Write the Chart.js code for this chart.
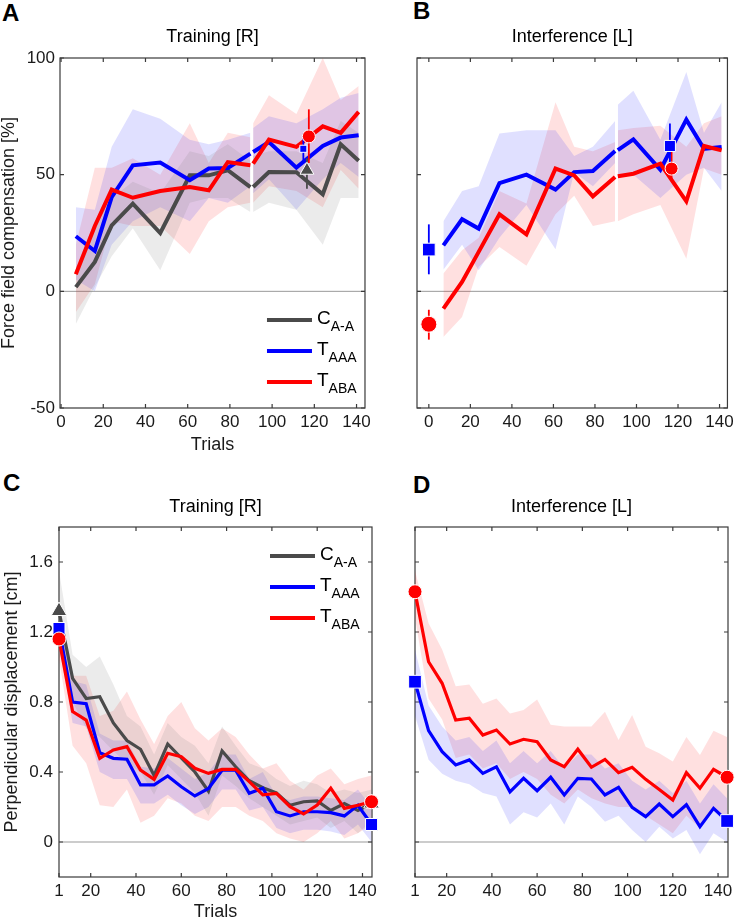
<!DOCTYPE html>
<html>
<head>
<meta charset="utf-8">
<script src="https://cdn.jsdelivr.net/npm/chart.js@4.4.0/dist/chart.umd.min.js"></script>
<style>
  body { margin: 0; background: #fff; width: 738px; height: 921px; position: relative; overflow: hidden; font-family: 'Liberation Sans', Arial, sans-serif; }
  canvas { position: absolute; }
  .letter { position: absolute; font-weight: bold; font-size: 24px; line-height: 1; color: #000; }
</style>
</head>
<body>
<div class="letter" style="left:2px;top:1px">A</div>
<div class="letter" style="left:413px;top:-1px">B</div>
<div class="letter" style="left:3px;top:471px">C</div>
<div class="letter" style="left:413px;top:473px">D</div>
<canvas id="chartA" width="375" height="460" style="left:0;top:0"></canvas>
<canvas id="chartB" width="363" height="460" style="left:375px;top:0"></canvas>
<canvas id="chartC" width="385" height="461" style="left:0;top:460px"></canvas>
<canvas id="chartD" width="353" height="461" style="left:385px;top:460px"></canvas>
<script>
// trial positions of the block averages
const trialsAB = [7, 16, 24, 34, 47, 61, 70, 79, 89.7, 91, 98.5, 111.5, 124, 132.5, 141];
const blockBreak = 90.35;   // gap between the two training blocks
const trialsCD = [6, 12, 18, 24, 30, 36, 42, 48, 54, 60, 66, 72, 78, 84, 90, 96, 102, 108, 114, 120, 126, 132, 138, 144];

const xTicksAB = [0, 20, 40, 60, 80, 100, 120, 140];
const xTicksCD = [6, 20, 40, 60, 80, 100, 120, 140];
const xLabelsCD = ['1', '20', '40', '60', '80', '100', '120', '140'];
const yTicksAB = [-50, 0, 50, 100];
const yTicksCD = [0, 0.4, 0.8, 1.2, 1.6];

const seriesNames = ['C', 'T', 'T'];
const seriesSubs = ['A-A', 'AAA', 'ABA'];

// A: force field compensation [%], training
const ffcGrayA = [1.8, 12.6, 28.3, 37.6, 25, 49.7, 49.7, 51.9, 44.7, 44.7, 51.1, 51, 41.6, 63, 56];
const ffcGrayUpA = [10, 30, 40, 47, 42, 60, 58, 63, 56, 58, 60, 60, 55, 73, 68];
const ffcGrayLoA = [-14, 2, 15, 27, 9, 38, 40, 40, 34, 34, 38, 35, 20, 40, 40];
const ffcBlueA = [23.6, 17.3, 40.4, 54, 55.2, 47.6, 52.6, 52.9, 59, 59.7, 64, 53, 62.3, 65.9, 66.9];
const ffcBlueUpA = [36, 35, 62, 78, 74, 65, 63, 65, 68, 70, 75, 72, 78, 83, 85];
const ffcBlueLoA = [5, 0, 20, 30, 36, 30, 40, 38, 45, 42, 48, 35, 48, 55, 49];
const ffcRedA = [7.3, 28, 43.6, 40.1, 43, 44.7, 43.3, 55.4, 54, 54.7, 65, 61.9, 70.7, 67.9, 76.9];
const ffcRedUpA = [20, 53, 53, 57, 50, 72, 55, 68, 66, 72, 84, 76, 100, 82, 88];
const ffcRedLoA = [-9, 3, 30, 28, 28, 16, 30, 36, 38, 38, 45, 43, 36, 52, 44];
// probes in A: gray, blue, red
const probeXA = [116.5, 114.8, 117.4];
const probeYA = [51.9, 61.1, 66.4];
const probeLoA = [44, 56, 55];
const probeHiA = [57, 67.6, 78];

// B: force field compensation [%], interference
const ffcBlueB = [19.7, 30.9, 26.9, 46.4, 50, 43.6, 51.1, 51.6, 60.1, 60.5, 65.1, 52.1, 73.6, 61.1, 61.9];
const ffcBlueUpB = [30, 43, 45, 67.6, 69, 69, 58, 62, 73, 80, 86, 65, 94, 68, 81];
const ffcBlueLoB = [9.3, 20, 9, 23, 37, 18, 51, 45, 55, 49, 50, 40, 50, 53, 43];
const ffcRedB = [-7.4, 4, 16.9, 33, 24.4, 52.6, 49.7, 40.7, 49, 49.3, 50.4, 54.7, 38.6, 62.3, 60.4];
const ffcRedUpB = [7.6, 17.6, 23, 43, 37.6, 81, 62, 60, 64, 69, 70, 71, 62, 72, 75];
const ffcRedLoB = [-19.6, -11, 10.4, 19, 11, 33, 41, 28, 30, 30, 33, 37, 14, 52.6, 50];
// probes in B: blue, red before; blue, red after
const probeXB = [0, 0, 116.1, 116.9];
const probeYB = [17.9, -14.1, 62.3, 52.6];
const probeLoB = [7.3, -20.7, 52, 47.6];
const probeHiB = [28.7, -7.9, 71.9, 61.9];

// C: perpendicular displacement [cm], training
const pdGrayC = [1.32, 0.935, 0.82, 0.83, 0.68, 0.58, 0.53, 0.38, 0.56, 0.48, 0.40, 0.29, 0.52, 0.43, 0.35, 0.31, 0.28, 0.21, 0.23, 0.235, 0.18, 0.22, 0.18, 0.22];
const pdGrayUpC = [1.55, 1.07, 1.0, 1.06, 0.9, 0.72, 0.66, 0.5, 0.68, 0.6, 0.55, 0.45, 0.66, 0.55, 0.45, 0.42, 0.36, 0.32, 0.35, 0.33, 0.28, 0.3, 0.28, 0.3];
const pdGrayLoC = [1.1, 0.8, 0.65, 0.6, 0.52, 0.45, 0.4, 0.27, 0.44, 0.36, 0.28, 0.15, 0.38, 0.32, 0.25, 0.2, 0.15, 0.1, 0.12, 0.14, 0.08, 0.12, 0.05, 0.12];
const pdBlueC = [1.22, 0.80, 0.79, 0.51, 0.478, 0.473, 0.326, 0.326, 0.377, 0.316, 0.263, 0.306, 0.41, 0.41, 0.278, 0.307, 0.173, 0.149, 0.173, 0.173, 0.168, 0.149, 0.21, 0.10];
const pdBlueUpC = [1.3, 0.92, 0.9, 0.62, 0.58, 0.58, 0.43, 0.42, 0.48, 0.42, 0.36, 0.4, 0.5, 0.5, 0.36, 0.4, 0.26, 0.24, 0.26, 0.26, 0.25, 0.24, 0.3, 0.2];
const pdBlueLoC = [1.12, 0.68, 0.66, 0.4, 0.36, 0.36, 0.22, 0.22, 0.27, 0.21, 0.16, 0.2, 0.3, 0.3, 0.18, 0.2, 0.08, 0.05, 0.07, 0.07, 0.06, 0.04, 0.1, 0.0];
const pdRedC = [1.16, 0.745, 0.697, 0.478, 0.526, 0.545, 0.411, 0.358, 0.507, 0.488, 0.421, 0.392, 0.415, 0.415, 0.345, 0.269, 0.278, 0.202, 0.16, 0.211, 0.307, 0.192, 0.21, 0.23];
const pdRedUpC = [1.25, 0.95, 0.95, 0.72, 0.75, 0.86, 0.7, 0.56, 0.72, 0.8, 0.65, 0.58, 0.65, 0.6, 0.5, 0.42, 0.45, 0.35, 0.3, 0.38, 0.42, 0.33, 0.36, 0.38];
const pdRedLoC = [1.05, 0.55, 0.45, 0.21, 0.2, 0.3, 0.11, 0.15, 0.25, 0.22, 0.15, 0.12, 0.2, 0.2, 0.15, 0.12, 0.05, 0.02, 0.0, 0.05, 0.12, 0.02, 0.05, 0.1];

// D: perpendicular displacement [cm], interference
const pdBlueD = [0.916, 0.636, 0.516, 0.44, 0.469, 0.392, 0.43, 0.287, 0.364, 0.293, 0.37, 0.269, 0.364, 0.36, 0.269, 0.312, 0.198, 0.145, 0.217, 0.145, 0.213, 0.088, 0.192, 0.12];
const pdBlueUpD = [1.1, 0.78, 0.66, 0.58, 0.6, 0.52, 0.58, 0.45, 0.52, 0.45, 0.52, 0.42, 0.5, 0.5, 0.42, 0.45, 0.35, 0.3, 0.35, 0.28, 0.35, 0.22, 0.33, 0.25];
const pdBlueLoD = [0.72, 0.47, 0.39, 0.35, 0.33, 0.28, 0.26, 0.1, 0.17, 0.14, 0.22, 0.1, 0.26, 0.2, 0.116, 0.15, 0.068, 0.0, 0.087, 0.02, 0.068, -0.07, 0.05, 0.0];
const pdRedD = [1.43, 1.03, 0.907, 0.697, 0.707, 0.611, 0.64, 0.56, 0.587, 0.573, 0.469, 0.43, 0.53, 0.427, 0.472, 0.396, 0.427, 0.358, 0.3, 0.24, 0.396, 0.307, 0.415, 0.37];
const pdRedUpD = [1.55, 1.25, 1.1, 0.89, 0.9, 0.79, 0.82, 0.735, 0.754, 0.815, 0.67, 0.66, 0.66, 0.66, 0.745, 0.583, 0.726, 0.545, 0.507, 0.46, 0.6, 0.497, 0.636, 0.6];
const pdRedLoD = [1.28, 0.82, 0.7, 0.48, 0.5, 0.42, 0.45, 0.36, 0.4, 0.36, 0.27, 0.22, 0.3, 0.25, 0.22, 0.2, 0.2, 0.15, 0.1, 0.05, 0.15, 0.08, 0.18, 0.12];

const FONT = "'Liberation Sans', Arial, sans-serif";
const GRAY = '#4a4a4a', BLUE = '#0000ff', RED = '#ff0000';
const GRAY_BAND = 'rgba(110,110,110,0.14)';
const BLUE_BAND = 'rgba(0,0,255,0.12)';
const RED_BAND = 'rgba(255,0,0,0.12)';

Chart.defaults.font.family = FONT;

// turn x / y arrays into points, with a null at the block break
const pts = (xs, ys, gap) => {
    const out = [];
    xs.forEach((x, i) => {
        if (gap !== undefined && i > 0 && xs[i - 1] < gap && x > gap) out.push({ x: gap, y: null });
        out.push({ x: x, y: ys[i] });
    });
    return out;
};

const bandSets = (xs, up, lo, color, gap) => [
    { data: pts(xs, up, gap), borderWidth: 0, pointRadius: 0, backgroundColor: color, fill: '+1', order: 10 },
    { data: pts(xs, lo, gap), borderWidth: 0, pointRadius: 0, fill: false, order: 10 },
];

const lineSet = (xs, ys, color, width, order, gap) => ({
    data: pts(xs, ys, gap), borderColor: color, borderWidth: width, pointRadius: 0, fill: false, order: order,
});

// line with a marker on its first and last point (panels C, D)
const endMarkedSet = (xs, ys, color, order, style, radius) => ({
    data: pts(xs, ys), borderColor: color, borderWidth: 3.2, fill: false, order: order, clip: false,
    pointStyle: style, pointBackgroundColor: color, pointBorderColor: '#fff', pointBorderWidth: 1,
    pointRadius: ctx => (ctx.dataIndex === 0 || ctx.dataIndex === xs.length - 1) ? radius : 0,
});

const probeSets = (xs, ys, lo, hi, colors, styles, radii) => {
    const sets = [];
    xs.forEach((x, i) => {
        sets.push({ data: [{ x: x, y: lo[i] }, { x: x, y: hi[i] }], borderColor: colors[i], borderWidth: 1.8, pointRadius: 0, order: 1, clip: false });
        sets.push({ data: [{ x: x, y: ys[i] }], showLine: false, pointStyle: styles[i], pointRadius: radii[i],
            pointBackgroundColor: colors[i], pointBorderColor: '#fff', pointBorderWidth: 1, order: 0, clip: false });
    });
    return sets;
};

// zero line, box and inward ticks like the original figure
const framePlugin = {
    id: 'frame',
    beforeDatasetsDraw(chart) {
        const { ctx, chartArea: a, scales: { x, y } } = chart;
        ctx.save();
        const y0 = y.getPixelForValue(0);
        ctx.strokeStyle = '#999';
        ctx.lineWidth = 1;
        ctx.beginPath();
        ctx.moveTo(a.left, y0);
        ctx.lineTo(a.right, y0);
        ctx.stroke();

        ctx.strokeStyle = '#3a3a3a';
        ctx.lineWidth = 1.2;
        ctx.strokeRect(a.left, a.top, a.right - a.left, a.bottom - a.top);
        const tl = 4;
        ctx.beginPath();
        x.ticks.forEach(t => {
            const px = x.getPixelForValue(t.value);
            ctx.moveTo(px, a.bottom); ctx.lineTo(px, a.bottom - tl);
            ctx.moveTo(px, a.top); ctx.lineTo(px, a.top + tl);
        });
        y.ticks.forEach(t => {
            const py = y.getPixelForValue(t.value);
            ctx.moveTo(a.left, py); ctx.lineTo(a.left + tl, py);
            ctx.moveTo(a.right, py); ctx.lineTo(a.right - tl, py);
        });
        ctx.stroke();
        ctx.restore();
    }
};

// legend with subscripts
const subLegendPlugin = {
    id: 'subLegend',
    afterDatasetsDraw(chart, args, opts) {
        if (!opts.show) return;
        const { ctx, chartArea: a } = chart;
        const colors = [GRAY, BLUE, RED];
        ctx.save();
        opts.rows.forEach((dy, i) => {
            const ry = (opts.from === 'bottom' ? a.bottom : a.top) + dy;
            ctx.strokeStyle = colors[i];
            ctx.lineWidth = 4;
            ctx.beginPath();
            ctx.moveTo(a.right - opts.x0, ry);
            ctx.lineTo(a.right - opts.x1, ry);
            ctx.stroke();
            ctx.fillStyle = '#000';
            ctx.textBaseline = 'alphabetic';
            ctx.font = '19px ' + FONT;
            const tx = a.right - opts.tx;
            ctx.fillText(seriesNames[i], tx, ry + 3.5);
            const w = ctx.measureText(seriesNames[i]).width;
            ctx.font = '14px ' + FONT;
            ctx.fillText(seriesSubs[i], tx + w, ry + 11);
        });
        ctx.restore();
    }
};

const makeChart = (id, cfg) => new Chart(document.getElementById(id), {
    type: 'line',
    data: { datasets: cfg.datasets },
    options: {
        responsive: false,
        animation: false,
        events: [],
        layout: { padding: cfg.padding },
        plugins: {
            legend: { display: false },
            tooltip: { enabled: false },
            title: {
                display: true, text: cfg.title, fullSize: false, color: '#000',
                font: { family: FONT, size: 18, weight: 'normal' }, padding: cfg.titlePad,
            },
            subLegend: cfg.legend || { show: false },
        },
        scales: {
            x: {
                type: 'linear', min: cfg.xMin, max: cfg.xMax,
                afterBuildTicks: s => { s.ticks = cfg.xTicks.map(v => ({ value: v })); },
                afterFit: s => { s.height = cfg.xHeight; },
                grid: { display: false, drawTicks: false },
                border: { display: false },
                ticks: {
                    autoSkip: false, maxRotation: 0, padding: 4, color: '#1a1a1a',
                    font: { family: FONT, size: 17 },
                    callback: (v, i) => cfg.xLabels ? cfg.xLabels[i] : v,
                },
                title: {
                    display: !!cfg.xTitle, text: cfg.xTitle, color: '#1a1a1a',
                    font: { family: FONT, size: 18, lineHeight: 1 }, padding: cfg.xTitlePad,
                },
            },
            y: {
                type: 'linear', min: cfg.yMin, max: cfg.yMax,
                afterBuildTicks: s => { s.ticks = cfg.yTicks.map(v => ({ value: v })); },
                afterFit: s => { s.width = cfg.yWidth; },
                grid: { display: false, drawTicks: false },
                border: { display: false },
                ticks: {
                    display: cfg.yLabels, padding: cfg.yPad, color: '#1a1a1a',
                    font: { family: FONT, size: 17 },
                },
                title: {
                    display: !!cfg.yTitle, text: cfg.yTitle, color: '#1a1a1a',
                    font: { family: FONT, size: 18, lineHeight: 1 }, padding: cfg.yTitlePad,
                },
            },
        },
    },
    plugins: [framePlugin, subLegendPlugin],
});

// Panel A
makeChart('chartA', {
    title: 'Training [R]',
    titlePad: { top: 26, bottom: 10.4 },
    padding: { left: 0, right: 2, top: 0, bottom: 0 },
    xMin: -0.5, xMax: 144, xTicks: xTicksAB, xHeight: 52, xTitle: 'Trials', xTitlePad: { top: 0, bottom: 6 },
    yMin: -50, yMax: 100, yTicks: yTicksAB, yWidth: 60, yLabels: true, yPad: 5,
    yTitle: 'Force field compensation [%]', yTitlePad: { top: 0, bottom: 0 },
    legend: { show: true, from: 'bottom', rows: [-88, -57, -26], x0: 98, x1: 53, tx: 48 },
    datasets: [
        ...probeSets(probeXA, probeYA, probeLoA, probeHiA, [GRAY, BLUE, RED], ['triangle', 'rect', 'circle'], [8, 5, 6.5]),
        lineSet(trialsAB, ffcRedA, RED, 4, 2, blockBreak),
        lineSet(trialsAB, ffcBlueA, BLUE, 4, 3, blockBreak),
        lineSet(trialsAB, ffcGrayA, GRAY, 4, 4, blockBreak),
        ...bandSets(trialsAB, ffcGrayUpA, ffcGrayLoA, GRAY_BAND, blockBreak),
        ...bandSets(trialsAB, ffcBlueUpA, ffcBlueLoA, BLUE_BAND, blockBreak),
        ...bandSets(trialsAB, ffcRedUpA, ffcRedLoA, RED_BAND, blockBreak),
    ],
});

// Panel B
makeChart('chartB', {
    title: 'Interference [L]',
    titlePad: { top: 26, bottom: 10.4 },
    padding: { left: 0, right: 8, top: 0, bottom: 0 },
    xMin: -5.7, xMax: 143.8, xTicks: xTicksAB, xHeight: 52,
    yMin: -50, yMax: 100, yTicks: yTicksAB, yWidth: 42, yLabels: false, yPad: 5,
    datasets: [
        ...probeSets(probeXB, probeYB, probeLoB, probeHiB, [BLUE, RED, BLUE, RED], ['rect', 'circle', 'rect', 'circle'], [9, 8, 7.8, 6.5]),
        lineSet(trialsAB, ffcRedB, RED, 4, 2, blockBreak),
        lineSet(trialsAB, ffcBlueB, BLUE, 4, 3, blockBreak),
        ...bandSets(trialsAB, ffcBlueUpB, ffcBlueLoB, BLUE_BAND, blockBreak),
        ...bandSets(trialsAB, ffcRedUpB, ffcRedLoB, RED_BAND, blockBreak),
    ],
});

// Panel C
makeChart('chartC', {
    title: 'Training [R]',
    titlePad: { top: 36, bottom: 9.4 },
    padding: { left: 0, right: 13, top: 0, bottom: 0 },
    xMin: 6, xMax: 144.2, xTicks: xTicksCD, xLabels: xLabelsCD, xHeight: 44, xTitle: 'Trials', xTitlePad: { top: 0, bottom: 0 },
    yMin: -0.2, yMax: 1.8, yTicks: yTicksCD, yWidth: 59, yLabels: true, yPad: 6,
    yTitle: 'Perpendicular displacement [cm]', yTitlePad: { top: 3, bottom: 0 },
    legend: { show: true, from: 'top', rows: [29, 60, 91], x0: 102, x1: 57, tx: 52 },
    datasets: [
        endMarkedSet(trialsCD, pdRedC, RED, 2, 'circle', 7),
        endMarkedSet(trialsCD, pdBlueC, BLUE, 3, 'rect', 8.5),
        endMarkedSet(trialsCD, pdGrayC, GRAY, 4, 'triangle', 9),
        ...bandSets(trialsCD, pdGrayUpC, pdGrayLoC, GRAY_BAND),
        ...bandSets(trialsCD, pdBlueUpC, pdBlueLoC, BLUE_BAND),
        ...bandSets(trialsCD, pdRedUpC, pdRedLoC, RED_BAND),
    ],
});

// Panel D
makeChart('chartD', {
    title: 'Interference [L]',
    titlePad: { top: 36, bottom: 9.4 },
    padding: { left: 0, right: 9, top: 0, bottom: 0 },
    xMin: 6, xMax: 144.4, xTicks: xTicksCD, xLabels: xLabelsCD, xHeight: 44,
    yMin: -0.2, yMax: 1.8, yTicks: yTicksCD, yWidth: 30, yLabels: false, yPad: 6,
    datasets: [
        endMarkedSet(trialsCD, pdRedD, RED, 2, 'circle', 7),
        endMarkedSet(trialsCD, pdBlueD, BLUE, 3, 'rect', 9),
        ...bandSets(trialsCD, pdBlueUpD, pdBlueLoD, BLUE_BAND),
        ...bandSets(trialsCD, pdRedUpD, pdRedLoD, RED_BAND),
    ],
});
</script>
</body>
</html>
